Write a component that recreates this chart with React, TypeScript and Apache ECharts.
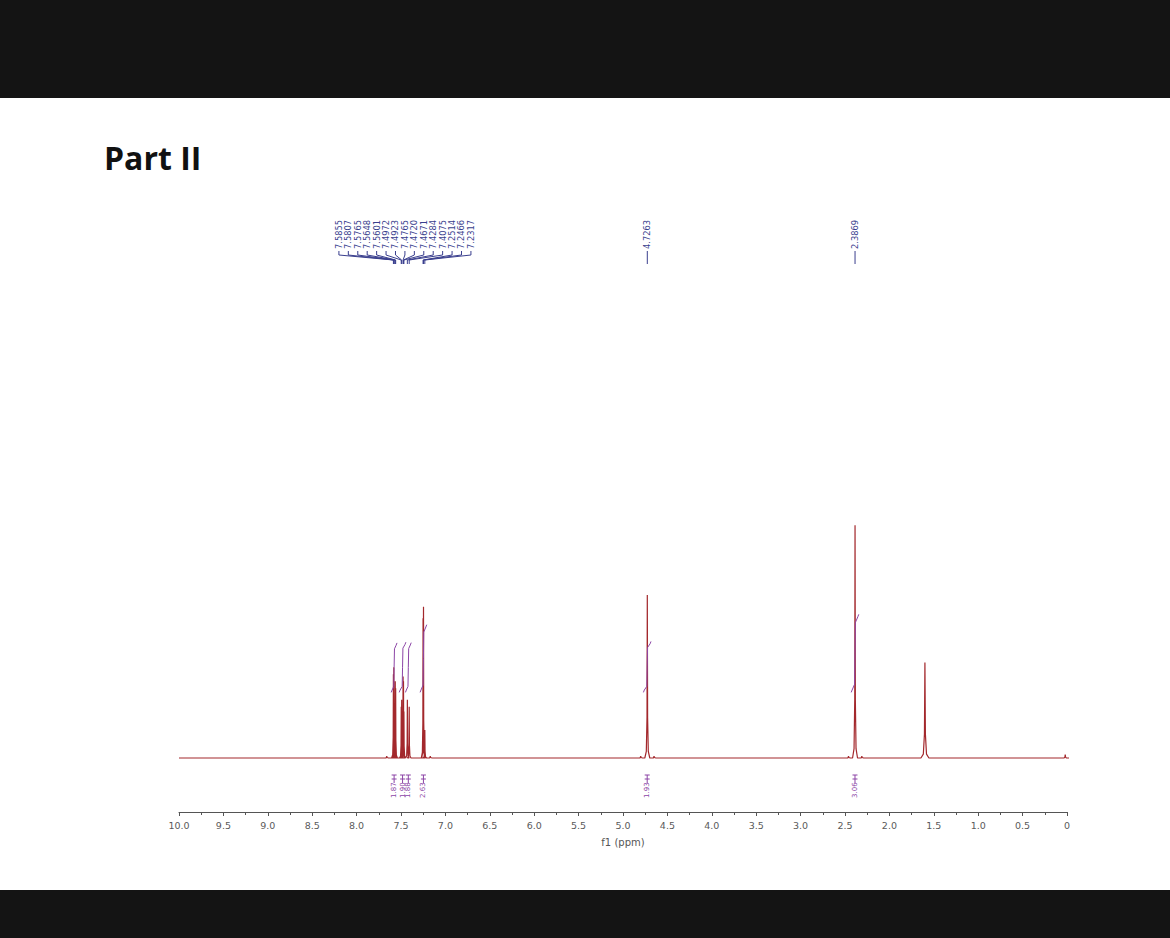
import React, { useEffect, useRef } from 'react';
import * as echarts from 'echarts';

// ---- data ----
const titleText = 'Part II';
const axisName = 'f1 (ppm)';

// labelled multiplet peaks (ppm)
const multipletLabels = [7.5855, 7.5807, 7.5765, 7.5648, 7.5601, 7.4972, 7.4923, 7.4765, 7.472, 7.4671, 7.4284, 7.4075, 7.2514, 7.2466, 7.2317];
// labelled single peaks (ppm)
const singleLabels = [4.7263, 2.3869];

// spectrum peaks (ppm, relative height, half base width in ppm), in descending ppm
const peakPpm = [7.66, 7.5855, 7.5807, 7.5765, 7.5648, 7.5601, 7.4972, 7.4923, 7.4765, 7.472, 7.4671, 7.4284, 7.4075, 7.2514, 7.2466, 7.2317, 7.17, 4.8, 4.7263, 4.65, 2.46, 2.3869, 2.31, 1.6, 0.02];
const peakHeight = [0.8, 36, 39, 20, 33, 30, 22, 25, 35, 33, 20, 25, 22, 60, 65, 12, 0.8, 0.8, 70, 0.8, 0.8, 100, 0.8, 41, 1.5];
const peakHalfWidth = [0.02, 0.02, 0.02, 0.02, 0.02, 0.02, 0.02, 0.02, 0.02, 0.02, 0.02, 0.02, 0.02, 0.02, 0.02, 0.02, 0.02, 0.02, 0.028, 0.02, 0.02, 0.028, 0.02, 0.045, 0.03];

// integrals: region start, region end (ppm), value
const integralFrom = [7.6, 7.51, 7.44, 7.275, 4.76, 2.42];
const integralTo = [7.555, 7.455, 7.395, 7.22, 4.695, 2.355];
const integralValue = [1.87, 1.9, 1.88, 2.63, 1.93, 3.06];

const axisMin = 0;
const axisMax = 10;
const axisInterval = 0.5;

// ---- styles ----
const RED = '#a3282c';
const PURPLE = '#8c45a6';
const NAVY = '#3a3f8e';
const AXIS = '#555555';
const FONT = 'DejaVu Sans';

const INTEGRAL_BASE = 29.2;
const INTEGRAL_PER_H = 10.3;

function buildSpectrum(): number[][] {
  const out: number[][] = [[axisMax, 0]];
  peakPpm.forEach((p, i) => {
    const h = peakHeight[i];
    const w = peakHalfWidth[i];
    out.push(
      [p + w, 0],
      [p + w * 0.4, h * 0.04],
      [p + w * 0.12, h * 0.25],
      [p, h],
      [p - w * 0.12, h * 0.25],
      [p - w * 0.4, h * 0.04],
      [p - w, 0]
    );
  });
  out.push([axisMin - 0.1, 0]);
  return out;
}

function buildIntegralCurve(s: number, e: number, v: number): number[][] {
  const b = INTEGRAL_BASE;
  const V = v * INTEGRAL_PER_H;
  const c = (s + e) / 2;
  return [
    [s + 0.01, b - 1.0],
    [s, b],
    [c + 0.004, b + 0.08 * V],
    [c, b + 0.5 * V],
    [c - 0.004, b + 0.92 * V],
    [e, b + V],
    [e - 0.01, b + V + 1.0],
  ];
}

const groupCenter = multipletLabels.reduce((a, b) => a + b, 0) / multipletLabels.length;
const LABEL_STEP = 9.43;

export default function App() {
  const ref = useRef<HTMLDivElement>(null);
  useEffect(() => {
    const chart = echarts.init(ref.current!, null, { renderer: 'svg' });

    const integralSeries = integralFrom.map((s, i) => ({
      type: 'line',
      data: buildIntegralCurve(s, integralTo[i], integralValue[i]),
      showSymbol: false,
      symbol: 'none',
      smooth: false,
      lineStyle: { color: PURPLE, width: 1 },
      z: 4,
      silent: true,
    }));

    const option: any = {
      animation: false,
      backgroundColor: '#ffffff',
      grid: { left: 179, right: 103, top: 502, bottom: 126, containLabel: false },
      xAxis: {
        type: 'value',
        inverse: true,
        min: axisMin,
        max: axisMax,
        interval: axisInterval,
        name: axisName,
        nameLocation: 'middle',
        nameGap: 25,
        nameTextStyle: { color: AXIS, fontSize: 10, fontFamily: FONT },
        axisLine: { show: true, onZero: false, lineStyle: { color: AXIS, width: 1 } },
        axisTick: { show: true, length: 4, lineStyle: { color: AXIS } },
        minorTick: { show: true, splitNumber: 2, length: 3, lineStyle: { color: AXIS } },
        splitLine: { show: false },
        axisLabel: {
          color: '#5a5a5a',
          fontSize: 9.5,
          fontFamily: FONT,
          margin: 8,
          formatter: (v: number) => (v === 0 ? '0' : v.toFixed(1)),
        },
      },
      yAxis: {
        type: 'value',
        min: -23.2,
        max: 110,
        show: false,
        splitLine: { show: false },
      },
      graphic: [
        { type: 'rect', shape: { x: 0, y: 0, width: 1170, height: 98 }, style: { fill: '#141414' }, silent: true },
        { type: 'rect', shape: { x: 0, y: 890, width: 1170, height: 48 }, style: { fill: '#141414' }, silent: true },
        {
          type: 'text',
          x: 104,
          y: 157,
          style: {
            text: titleText,
            fontFamily: 'Open Sans',
            fontWeight: 'bold',
            fontSize: 32,
            fill: '#111111',
            align: 'left',
            verticalAlign: 'middle',
          },
        },
      ],
      series: [
        {
          type: 'line',
          data: buildSpectrum(),
          showSymbol: false,
          symbol: 'none',
          lineStyle: { color: RED, width: 1.2 },
          z: 3,
          silent: true,
        },
        ...integralSeries,
        {
          type: 'custom',
          clip: false,
          silent: true,
          z: 5,
          data: integralFrom.map((s, i) => [s, integralTo[i], integralValue[i]]),
          encode: { x: [0, 1] },
          renderItem: (params: any, api: any) => {
            const s = api.value(0);
            const e = api.value(1);
            const v = api.value(2);
            const p1 = api.coord([s, 0]);
            const p2 = api.coord([e, 0]);
            const y0 = p1[1];
            const xc = (p1[0] + p2[0]) / 2;
            const x1 = xc - 2.5;
            const x2 = xc + 2.5;
            const ls = { stroke: PURPLE, lineWidth: 1 };
            return {
              type: 'group',
              children: [
                { type: 'line', shape: { x1, y1: y0 + 17, x2, y2: y0 + 17 }, style: ls },
                { type: 'line', shape: { x1, y1: y0 + 21, x2, y2: y0 + 21 }, style: ls },
                { type: 'line', shape: { x1: xc, y1: y0 + 17, x2: xc, y2: y0 + 25 }, style: ls },
                {
                  type: 'text',
                  x: xc,
                  y: y0 + 40,
                  rotation: Math.PI / 2,
                  style: {
                    text: v.toFixed(2),
                    fontSize: 7,
                    fontFamily: FONT,
                    fill: PURPLE,
                    align: 'left',
                    verticalAlign: 'middle',
                  },
                },
              ],
            };
          },
        },
        {
          type: 'custom',
          clip: false,
          silent: true,
          z: 5,
          data: multipletLabels.map((p, i) => [p, 0, i]),
          renderItem: (params: any, api: any) => {
            const p = api.value(0);
            const i = api.value(2);
            const px = api.coord([p, 0])[0];
            const cx = api.coord([groupCenter, 0])[0];
            const lx = cx + (i - (multipletLabels.length - 1) / 2) * LABEL_STEP;
            const ls = { stroke: NAVY, lineWidth: 1, fill: 'none' };
            return {
              type: 'group',
              children: [
                {
                  type: 'polyline',
                  shape: { points: [[lx, 251], [lx, 255], [px, 260], [px, 264]] },
                  style: ls,
                },
                {
                  type: 'text',
                  x: lx,
                  y: 249,
                  rotation: Math.PI / 2,
                  style: {
                    text: p.toFixed(4),
                    fontSize: 8.3,
                    fontFamily: FONT,
                    fill: NAVY,
                    align: 'left',
                    verticalAlign: 'middle',
                  },
                },
              ],
            };
          },
        },
        {
          type: 'custom',
          clip: false,
          silent: true,
          z: 5,
          data: singleLabels.map((p) => [p, 0]),
          renderItem: (params: any, api: any) => {
            const p = api.value(0);
            const px = api.coord([p, 0])[0];
            return {
              type: 'group',
              children: [
                { type: 'line', shape: { x1: px, y1: 251, x2: px, y2: 264 }, style: { stroke: NAVY, lineWidth: 1 } },
                {
                  type: 'text',
                  x: px,
                  y: 249,
                  rotation: Math.PI / 2,
                  style: {
                    text: p.toFixed(4),
                    fontSize: 8.3,
                    fontFamily: FONT,
                    fill: NAVY,
                    align: 'left',
                    verticalAlign: 'middle',
                  },
                },
              ],
            };
          },
        },
      ],
    };

    chart.setOption(option);
    return () => chart.dispose();
  }, []);

  return (
    <div
      ref={ref}
      style={{ position: 'fixed', left: 0, top: 0, width: 1170, height: 938, background: '#ffffff' }}
    />
  );
}
